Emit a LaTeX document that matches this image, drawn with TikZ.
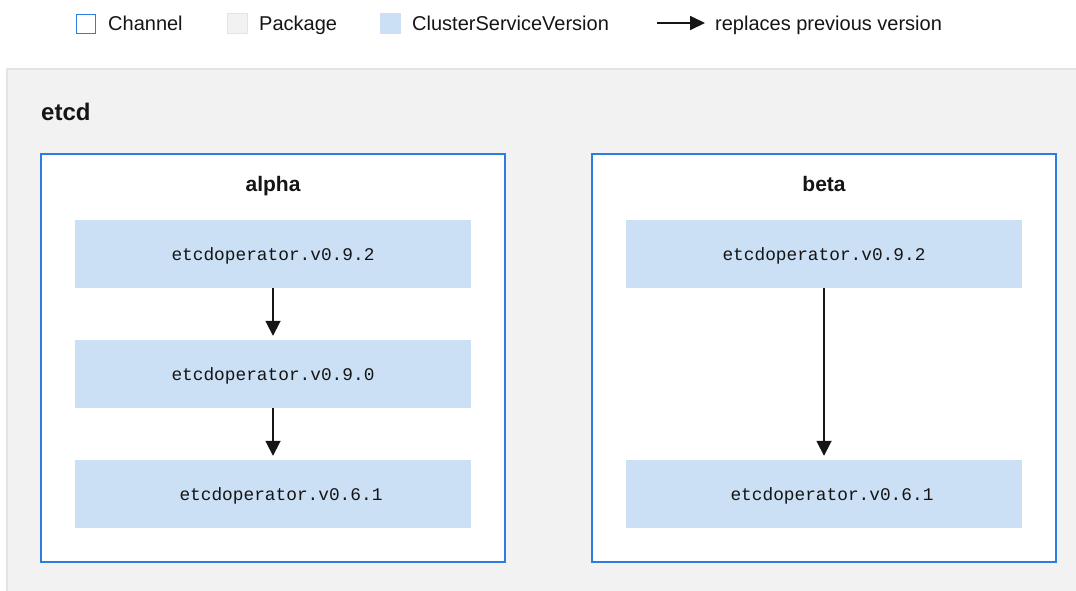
\documentclass[tikz,border=0pt]{standalone}
\usepackage{fontspec}
\setmainfont{Liberation Sans}
\newfontfamily\monofont{Liberation Mono}
\usetikzlibrary{arrows.meta}
\definecolor{chblue}{RGB}{43,125,224}
\definecolor{csvfill}{RGB}{204,224,245}
\definecolor{pkgfill}{RGB}{242,242,242}
\definecolor{pkgline}{RGB}{228,228,228}
\definecolor{arrowc}{RGB}{21,21,21}
\tikzset{
  channelbox/.style={draw=chblue, line width=2pt, fill=white},
  csvbox/.style={fill=csvfill, draw=none, minimum width=396pt, minimum height=68pt, inner sep=0pt},
  csvtext/.style={anchor=base, inner sep=0pt, font=\monofont\fontsize{17.8}{20}\selectfont, text=arrowc},
  replaces/.style={draw=arrowc, line width=1.8pt, -{Triangle[width=15pt,length=15pt]}, shorten >=4pt},
  legtext/.style={anchor=base west, font=\fontsize{20}{24}\selectfont, text=arrowc, inner sep=0pt},
  title/.style={anchor=base, font=\bfseries\fontsize{21}{24}\selectfont, text=arrowc, inner sep=0pt}
}
\begin{document}
\begin{tikzpicture}[x=1pt,y=-1pt]
\useasboundingbox (0,0) rectangle (1076,591);
\fill[white] (0,0) rectangle (1076,591);
% package
\begin{scope}
\clip (0,0) rectangle (1076,591);
\draw[pkgline, fill=pkgfill, line width=2pt] (7,69) rectangle (1090,600);
\end{scope}
% legend
\node[draw=chblue, line width=1.6pt, fill=white, minimum size=19pt, inner sep=0pt] (lgch) at (86,24) {};
\node[legtext] (lgchT) at (108,31) {Channel};
\node[draw=pkgline, line width=1pt, fill=pkgfill, minimum size=20pt, inner sep=0pt] (lgpk) at (237,24) {};
\node[legtext] (lgpkT) at (259,31) {Package};
\node[fill=csvfill, minimum size=21pt, inner sep=0pt] (lgcsv) at (390.5,24) {};
\node[legtext] (lgcsvT) at (412,31) {ClusterServiceVersion};
\coordinate (lgaS) at (657,23);
\coordinate (lgaE) at (705,23);
\node[legtext] (lgaT) at (715,31) {replaces previous version};
\draw[draw=arrowc, line width=1.8pt, -{Triangle[width=14pt,length=15pt]}] (lgaS) -- (lgaE);
% package title
\node[title, anchor=base west, font=\bfseries\fontsize{24}{28}\selectfont] (etcd) at (41,121) {etcd};
% channels
\node[channelbox, minimum width=464pt, minimum height=408pt, inner sep=0pt] (alpha) at (273,358) {};
\node[channelbox, minimum width=464pt, minimum height=408pt, inner sep=0pt] (beta) at (824,358) {};
\node[title] (alphaT) at (273,191) {alpha};
\node[title] (betaT) at (824,191) {beta};
% alpha csvs
\node[csvbox] (a1) at (273,254) {};
\node[csvbox] (a2) at (273,374) {};
\node[csvbox] (a3) at (273,494) {};
\node[csvtext] (a1T) at (273,260) {etcdoperator.v0.9.2};
\node[csvtext] (a2T) at (273,380) {etcdoperator.v0.9.0};
\node[csvtext] (a3T) at (281,500) {etcdoperator.v0.6.1};
% beta csvs
\node[csvbox] (b1) at (824,254) {};
\node[csvbox] (b3) at (824,494) {};
\node[csvtext] (b1T) at (824,260) {etcdoperator.v0.9.2};
\node[csvtext] (b3T) at (832,500) {etcdoperator.v0.6.1};
% arrows
\draw[replaces] (a1) -- (a2);
\draw[replaces] (a2) -- (a3);
\draw[replaces] (b1) -- (b3);
\end{tikzpicture}
\end{document}
